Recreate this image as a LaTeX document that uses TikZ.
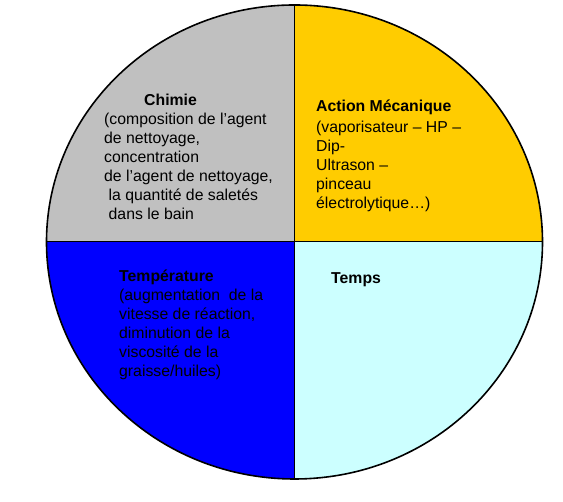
\documentclass[tikz,border=0pt]{standalone}
\usepackage{fontspec}
\setmainfont{Liberation Sans}
\usepackage{xcolor}
\usepackage{tikz}
\usetikzlibrary{positioning}

\definecolor{gris}{HTML}{C0C0C0}
\definecolor{jaune}{HTML}{FFCC00}
\definecolor{bleu}{HTML}{0000FF}
\definecolor{cyanpale}{HTML}{CCFFFF}

\begin{document}
\begin{tikzpicture}[x=1pt, y=1pt,
		txt/.style={anchor=north west, inner sep=0pt, align=left, font=\fontsize{15.8}{19}\selectfont}]
		
		\useasboundingbox (0,0) rectangle (563,502);
		\coordinate (c) at (294.5,260);
		
		% les quatre quarts
		\fill[gris] (c) -- ++(-248,0) arc[start angle=180, end angle=90, x radius=248pt, y radius=237pt] -- cycle;
		\fill[jaune] (c) -- ++(0,237) arc[start angle=90, end angle=0, x radius=248pt, y radius=237pt] -- cycle;
		\fill[bleu] (c) -- ++(-248,0) arc[start angle=180, end angle=270, x radius=248pt, y radius=237pt] -- cycle;
		\fill[cyanpale] (c) -- ++(0,-237) arc[start angle=270, end angle=360, x radius=248pt, y radius=237pt] -- cycle;
		
		\draw[line width=1pt] (c) ++(-248,0) -- ++(496,0);
		\draw[line width=1pt] (c) ++(0,-237) -- ++(0,474);
		\draw[line width=1.6pt] (c) ellipse[x radius=248pt, y radius=237pt];
		
		\node[txt] (chimie) at (104,408) {\hspace*{40pt}\textbf{Chimie}\\(composition de l’agent\\de nettoyage,\\concentration\\de l’agent de nettoyage,\\\hspace*{4.5pt}la quantité de saletés\\\hspace*{4.5pt}dans le bain};
		\node[txt] (action) at (316,402) {\textbf{Action Mécanique}\\[2pt](vaporisateur – HP –\\Dip-\\Ultrason –\\pinceau\\électrolytique…)};
		\node[txt] (temperature) at (119,232) {\textbf{Température}\\(augmentation \ de la\\vitesse de réaction,\\diminution de la\\viscosité de la\\graisse/huiles)};
		\node[txt] (temps) at (331,230) {\textbf{Temps}};
		
\end{tikzpicture}
\end{document}
